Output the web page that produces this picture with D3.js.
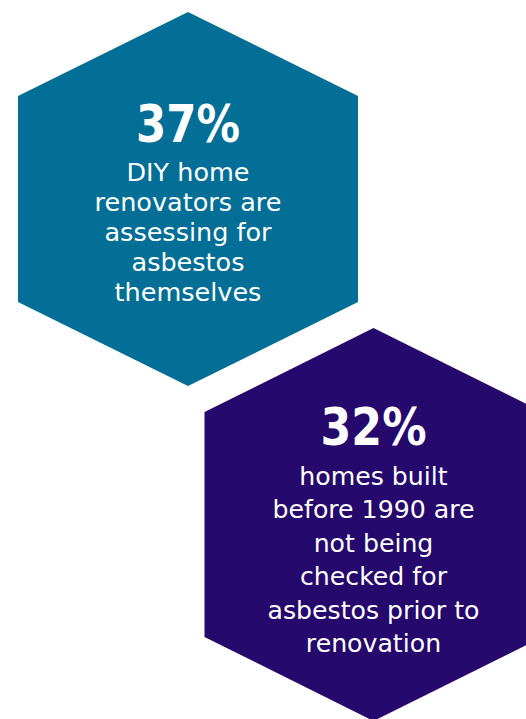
<!DOCTYPE html>
<html><head><meta charset="utf-8">
<script src="https://cdn.jsdelivr.net/npm/d3@7"></script>
<style>html,body{margin:0;padding:0;background:#fff;}svg{display:block;}</style>
</head><body>
<svg id="chart" width="526" height="719"></svg>
<script>
// Data
const statValues = [37, 32];
const statLabels = ["37%", "32%"];
const statDescriptions = [
  ["DIY home", "renovators are", "assessing for", "asbestos", "themselves"],
  ["homes built", "before 1990 are", "not being", "checked for", "asbestos prior to", "renovation"]
];
const statColors = ["#036e96", "#25096c"];

// Layout
const hexes = [
  {cx: 188, top: 12, bottom: 386, half: 170, shoulder: 84, bigY: 142, bigW: 104, firstLine: 181, lineGap: 30, bigSize: 52, smallSize: 25.5},
  {cx: 373.5, top: 328, bottom: 721, half: 169, shoulder: 84, bigY: 445, bigW: 106, firstLine: 485, lineGap: 33.4, bigSize: 52, smallSize: 25.2}
];

const svg = d3.select("#chart");
const line = d3.line();
const font = "'DejaVu Sans', sans-serif";

hexes.forEach((h, i) => {
  const pts = [
    [h.cx, h.top],
    [h.cx + h.half, h.top + h.shoulder],
    [h.cx + h.half, h.bottom - h.shoulder],
    [h.cx, h.bottom],
    [h.cx - h.half, h.bottom - h.shoulder],
    [h.cx - h.half, h.top + h.shoulder]
  ];
  const g = svg.append("g");
  g.append("path").attr("d", line(pts) + "Z").attr("fill", statColors[i]);
  g.append("text")
    .attr("x", h.cx - h.bigW / 2).attr("y", h.bigY)
    .attr("textLength", h.bigW)
    .attr("lengthAdjust", "spacingAndGlyphs")
    .attr("fill", "#fff")
    .attr("font-family", font)
    .attr("font-weight", "bold")
    .attr("font-size", h.bigSize)
    .text(statLabels[i]);
  g.selectAll("text.d").data(statDescriptions[i]).join("text")
    .attr("class", "d")
    .attr("x", h.cx)
    .attr("y", (d, j) => h.firstLine + j * h.lineGap)
    .attr("text-anchor", "middle")
    .attr("fill", "#fff")
    .attr("font-family", font)
    .attr("font-size", h.smallSize)
    .text(d => d);
});
</script>
</body></html>
